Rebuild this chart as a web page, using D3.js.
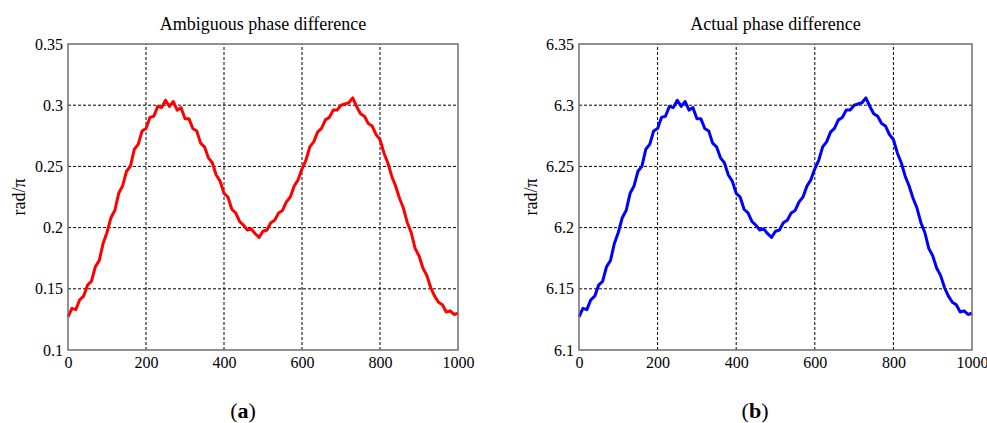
<!DOCTYPE html>
<html>
<head>
<meta charset="utf-8">
<script src="https://cdn.jsdelivr.net/npm/d3@7"></script>
<style>
  body { margin: 0; background: #fff; }
  text { font-family: "Liberation Serif", "Times New Roman", serif; fill: #000; }
</style>
</head>
<body>
<div id="chart"></div>
<script>
// sample index (every 10 samples)
const sampleIdx = d3.range(0, 1001, 10);

// rad/pi
const ambiguousPhase = [
  0.127, 0.134, 0.133, 0.141, 0.144, 0.153, 0.156, 0.168, 0.173, 0.187,
  0.196, 0.208, 0.214, 0.228, 0.234, 0.246, 0.250, 0.264, 0.268, 0.279,
  0.281, 0.290, 0.291, 0.299, 0.298, 0.304, 0.299, 0.303, 0.296, 0.298,
  0.289, 0.289, 0.281, 0.279, 0.269, 0.266, 0.257, 0.253, 0.243, 0.238,
  0.228, 0.225, 0.215, 0.212, 0.205, 0.202, 0.198, 0.199, 0.195, 0.192,
  0.197, 0.198, 0.204, 0.206, 0.212, 0.214, 0.221, 0.225, 0.234, 0.239,
  0.248, 0.255, 0.266, 0.270, 0.278, 0.281, 0.288, 0.290, 0.296, 0.296,
  0.300, 0.301, 0.302, 0.306, 0.299, 0.293, 0.291, 0.285, 0.283, 0.276,
  0.272, 0.261, 0.253, 0.242, 0.234, 0.224, 0.216, 0.204, 0.196, 0.183,
  0.177, 0.167, 0.161, 0.151, 0.144, 0.139, 0.137, 0.131, 0.132, 0.129,
  0.130
];

// rad/pi
const actualPhase = [
  6.127, 6.134, 6.133, 6.141, 6.144, 6.153, 6.156, 6.168, 6.173, 6.187,
  6.196, 6.208, 6.214, 6.228, 6.234, 6.246, 6.250, 6.264, 6.268, 6.279,
  6.281, 6.290, 6.291, 6.299, 6.298, 6.304, 6.299, 6.303, 6.296, 6.298,
  6.289, 6.289, 6.281, 6.279, 6.269, 6.266, 6.257, 6.253, 6.243, 6.238,
  6.228, 6.225, 6.215, 6.212, 6.205, 6.202, 6.198, 6.199, 6.195, 6.192,
  6.197, 6.198, 6.204, 6.206, 6.212, 6.214, 6.221, 6.225, 6.234, 6.239,
  6.248, 6.255, 6.266, 6.270, 6.278, 6.281, 6.288, 6.290, 6.296, 6.296,
  6.300, 6.301, 6.302, 6.306, 6.299, 6.293, 6.291, 6.285, 6.283, 6.276,
  6.272, 6.261, 6.253, 6.242, 6.234, 6.224, 6.216, 6.204, 6.196, 6.183,
  6.177, 6.167, 6.161, 6.151, 6.144, 6.139, 6.137, 6.131, 6.132, 6.129,
  6.130
];

const xTicks = [0, 200, 400, 600, 800, 1000];
const yTicksA = [0.1, 0.15, 0.2, 0.25, 0.3, 0.35];
const yTicksB = [6.1, 6.15, 6.2, 6.25, 6.3, 6.35];

const svg = d3.select("#chart")
  .append("svg")
  .attr("width", 987)
  .attr("height", 423);

// one panel of the figure
function drawPanel(opts) {
  const x = d3.scaleLinear().domain([0, 1000]).range([opts.left, opts.right]);
  const y = d3.scaleLinear().domain(opts.yDomain).range([350, 44]);
  const g = svg.append("g");

  // dashed grid
  g.selectAll(".vgrid")
    .data(xTicks.slice(1, -1))
    .join("line")
    .attr("x1", d => x(d)).attr("x2", d => x(d))
    .attr("y1", y.range()[0]).attr("y2", y.range()[1])
    .attr("stroke", "#000").attr("stroke-width", 1)
    .attr("stroke-dasharray", "3,2");
  g.selectAll(".hgrid")
    .data(opts.yTicks.slice(1, -1))
    .join("line")
    .attr("x1", opts.left).attr("x2", opts.right)
    .attr("y1", d => y(d)).attr("y2", d => y(d))
    .attr("stroke", "#000").attr("stroke-width", 1)
    .attr("stroke-dasharray", "3,2");

  // data line
  const line = d3.line()
    .x((d, i) => x(sampleIdx[i]))
    .y(d => y(d));
  g.append("path")
    .datum(opts.values)
    .attr("d", line)
    .attr("fill", "none")
    .attr("stroke", opts.color)
    .attr("stroke-width", 3)
    .attr("stroke-linejoin", "round");

  // box
  g.append("rect")
    .attr("x", opts.left).attr("y", 44)
    .attr("width", opts.right - opts.left).attr("height", 306)
    .attr("fill", "none").attr("stroke", "#6e6e6e").attr("stroke-width", 1.5);

  // axes (labels only, no tick marks)
  const xAxis = g.append("g")
    .attr("transform", "translate(0,350)")
    .call(d3.axisBottom(x).tickValues(xTicks).tickSize(0).tickPadding(7).tickFormat(d3.format("d")))
    .attr("font-family", "Liberation Serif")
    .attr("font-size", 16);
  xAxis.select(".domain").remove();

  const yAxis = g.append("g")
    .attr("transform", "translate(" + opts.left + ",0)")
    .call(d3.axisLeft(y).tickValues(opts.yTicks).tickSize(0).tickPadding(5).tickFormat(d => +d.toFixed(2)))
    .attr("font-family", "Liberation Serif")
    .attr("font-size", 16);
  yAxis.select(".domain").remove();

  // title
  g.append("text")
    .attr("x", (opts.left + opts.right) / 2)
    .attr("y", 30)
    .attr("text-anchor", "middle")
    .style("font-size", "18px")
    .text(opts.title);

  // y label
  g.append("text")
    .attr("transform", "translate(" + opts.ylabelX + ",197) rotate(-90)")
    .attr("text-anchor", "middle")
    .style("font-size", "18px")
    .text("rad/\u03c0");

  // caption
  const cap = g.append("text")
    .attr("x", opts.captionX)
    .attr("y", 418)
    .attr("text-anchor", "middle")
    .style("font-size", "22px");
  cap.append("tspan").text("(");
  cap.append("tspan").style("font-weight", "bold").text(opts.caption);
  cap.append("tspan").text(")");
}

drawPanel({
  left: 68, right: 458, yDomain: [0.1, 0.35], yTicks: yTicksA,
  values: ambiguousPhase, color: "#ff0000",
  title: "Ambiguous phase difference", ylabelX: 25, captionX: 243, caption: "a"
});

drawPanel({
  left: 579, right: 972, yDomain: [6.1, 6.35], yTicks: yTicksB,
  values: actualPhase, color: "#0000ff",
  title: "Actual phase difference", ylabelX: 537, captionX: 755, caption: "b"
});
</script>
</body>
</html>
